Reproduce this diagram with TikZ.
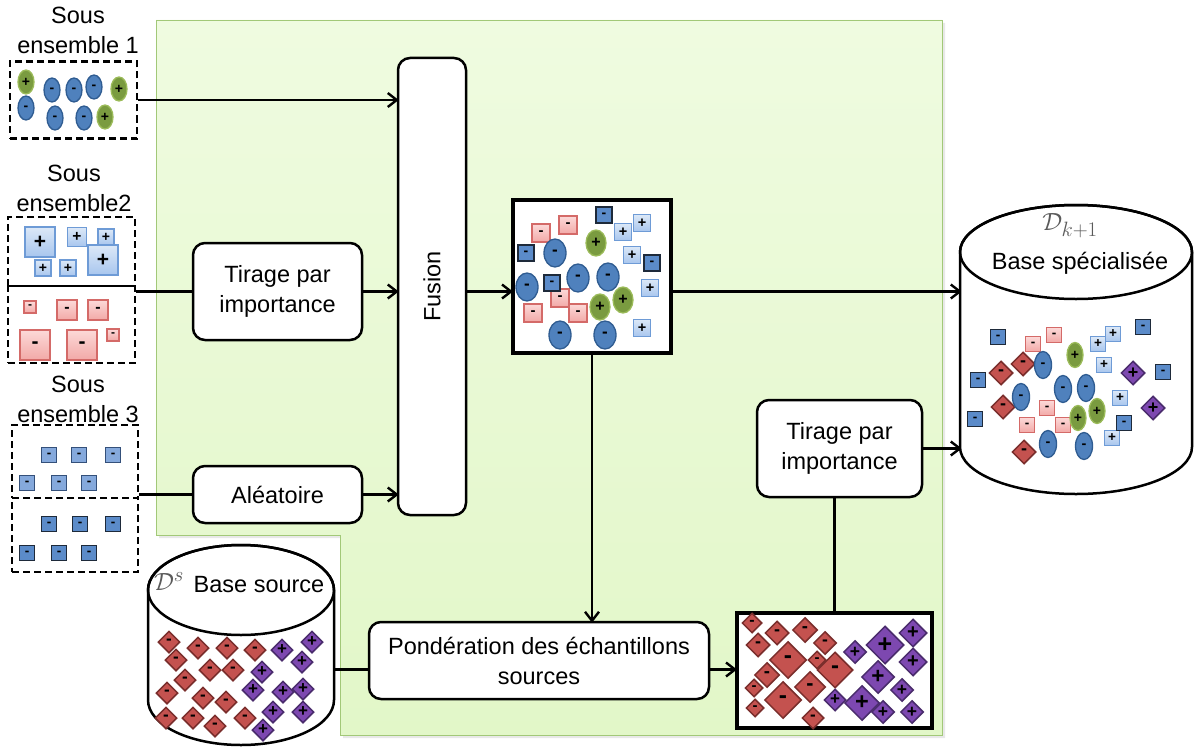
\documentclass[tikz,border=0pt]{standalone}
\usepackage{fontspec}
\setmainfont{Liberation Sans}
\usetikzlibrary{arrows.meta, shapes.geometric}
\pgfdeclarelayer{bg}
\pgfsetlayers{bg,main}
\definecolor{gtop}{HTML}{EFFBE0}
\definecolor{gmid}{HTML}{CFF39E}
\definecolor{gbot}{HTML}{E2F7C8}
\definecolor{gedge}{HTML}{A2C878}
\definecolor{eblue}{HTML}{4F81BD}
\definecolor{ebluedk}{HTML}{2F5C91}
\definecolor{egreen}{HTML}{7A9B40}
\definecolor{egreenlt}{HTML}{9BBB59}
\definecolor{sqbluet}{HTML}{DCE8F7}
\definecolor{sqblueb}{HTML}{A8C6EE}
\definecolor{sqbluedr}{HTML}{6E9BD6}
\definecolor{sqpinkt}{HTML}{FCD9D8}
\definecolor{sqpinkb}{HTML}{F2A9A7}
\definecolor{sqpinkdr}{HTML}{D46A68}
\definecolor{sqdark}{HTML}{5B8BC9}
\definecolor{sqdarkdr}{HTML}{1E2A3A}
\definecolor{sqlight}{HTML}{85A9DC}
\definecolor{sqlightdr}{HTML}{34507A}
\definecolor{dmred}{HTML}{C4524F}
\definecolor{dmreddr}{HTML}{7A2E2C}
\definecolor{dmpurp}{HTML}{7D48B0}
\definecolor{dmpurpdr}{HTML}{4A2C6C}
\definecolor{mathgray}{HTML}{5A5A5A}
\newcommand{\labfont}{\fontsize{23.5}{30}\selectfont}
\newcommand{\symfont}[1]{\pgfmathsetmacro{\symsz}{6+0.5*#1}\fontsize{\symsz}{\symsz}\selectfont\bfseries}
\newcommand{\headright}[1]{\draw[ln, line join=miter] #1 ++(-9,-7) -- ++(9,7) -- ++(-9,7);}
\newcommand{\headdown}[1]{\draw[ln, line join=miter] #1 ++(-7,-9) -- ++(7,9) -- ++(7,-9);}
\tikzset{
  lbl/.style={font=\labfont, align=center, inner sep=0pt},
  proc/.style={draw, line width=2.5pt, rounded corners=12pt, fill=white,
    align=center, font=\labfont, inner sep=0pt},
  dashbox/.style={draw, line width=2.6pt, dash pattern=on 7pt off 4pt, inner sep=0pt},
  setbox/.style={draw, line width=4pt, fill=white, inner sep=0pt},
  ln/.style={line width=2.4pt},
  cyl/.style={draw, line width=2.5pt, fill=white},
  mathlbl/.style={font=\fontsize{30}{30}\selectfont, text=mathgray, inner sep=0pt},
  ellneg/.style 2 args={ellipse, draw=ebluedk, line width=1.3pt, fill=eblue,
    minimum width=#1, minimum height=#2, inner sep=0pt, font=\symfont{#1}},
  ellpos/.style 2 args={ellipse, draw=egreenlt, line width=1.3pt, fill=egreen,
    minimum width=#1, minimum height=#2, inner sep=0pt, font=\symfont{#1}},
  sqpos/.style={rectangle, draw=sqbluedr, line width=1.2pt, top color=sqbluet,
    bottom color=sqblueb, minimum size=#1, inner sep=0pt, font=\symfont{#1}},
  sqneg/.style={rectangle, draw=sqpinkdr, line width=1.2pt, top color=sqpinkt,
    bottom color=sqpinkb, minimum size=#1, inner sep=0pt, font=\symfont{#1}},
  sqdk/.style={rectangle, draw=sqdarkdr, line width=1.4pt, fill=sqdark,
    minimum size=#1, inner sep=0pt, font=\symfont{#1}},
  sqlt/.style={rectangle, draw=sqlightdr, line width=1.4pt, fill=sqlight,
    minimum size=15, inner sep=0pt, font=\symfont{15}},
  dmneg/.style={diamond, draw=dmreddr, line width=1.5pt, fill=dmred,
    minimum size=#1, inner sep=-2pt, font=\symfont{#1}},
  dmpos/.style={diamond, draw=dmpurpdr, line width=1.5pt, fill=dmpurp,
    minimum size=#1, inner sep=-2pt, font=\symfont{#1}},
}
\begin{document}
\begin{tikzpicture}[x=1pt, y=-1pt]
\useasboundingbox (0,0) rectangle (1198,749);

%% processing boxes
\node[proc, minimum width=169, minimum height=97] (tir1) at (277.5,291.5) {Tirage par\\importance};
\node[proc, minimum width=169, minimum height=57] (ale) at (277.5,494.5) {Aléatoire};
\node[proc, minimum width=68, minimum height=457] (fus) at (432,286.5) {};
\node[lbl, rotate=90] (fustxt) at (fus.center) {Fusion};
\node[proc, minimum width=340, minimum height=77] (pond) at (539,660.5) {Pondération des échantillons\\sources};
\node[proc, minimum width=165, minimum height=97] (tir2) at (839.5,448.5) {Tirage par\\importance};
\node[setbox, minimum width=158, minimum height=153] (mix) at (592,276.5) {};
\node[setbox, minimum width=195, minimum height=115] (dmb) at (834.5,670.5) {};
\node[minimum width=232, minimum height=290, inner sep=0pt] (dk) at (1076,350) {};
\node[minimum width=186, minimum height=200, inner sep=0pt] (ds) at (241,645) {};

%% subsets
\node[lbl] (l1) at (78,30) {Sous\\ensemble 1};
\node[lbl] (l2) at (74,188) {Sous\\ensemble2};
\node[lbl] (l3) at (78,399) {Sous\\ensemble 3};
\node[dashbox, minimum width=127, minimum height=77] (s1) at (73.5,100) {};
\node[dashbox, minimum width=127, minimum height=69] (s2a) at (71.5,251.5) {};
\node[dashbox, minimum width=127, minimum height=77] (s2b) at (71.5,324.5) {};
\node[dashbox, minimum width=126, minimum height=73] (s3a) at (75,461.5) {};
\node[dashbox, minimum width=126, minimum height=74] (s3b) at (75,535) {};

%% connectors
\draw[ln] (s1.east) -- (s1.east -| fus.west);
\headright{(s1.east -| fus.west)}
\draw[ln] (tir1.west -| s2a.east) -- (tir1.west);
\draw[ln] (tir1.east) -- (tir1.east -| fus.west);
\headright{(tir1.east -| fus.west)}
\draw[ln] (ale.west -| s3a.east) -- (ale.west);
\draw[ln] (ale.east) -- (ale.east -| fus.west);
\headright{(ale.east -| fus.west)}
\draw[ln] (tir1.east -| fus.east) -- (tir1.east -| mix.west);
\headright{(tir1.east -| mix.west)}
\draw[ln] (tir1.east -| mix.east) -- (tir1.east -| dk.west);
\headright{(tir1.east -| dk.west)}
\draw[ln] (mix.south) -- (mix.south |- pond.north);
\headdown{(mix.south |- pond.north)}
\draw[ln] ([yshift=-9pt]pond.west -| ds.east) -- ([yshift=-9pt]pond.west);
\draw[ln] ([yshift=-9pt]pond.east) -- ([yshift=-9pt]pond.east -| dmb.west);
\headright{([yshift=-9pt]pond.east -| dmb.west)}
\draw[ln] (dmb.north) -- (dmb.north |- tir2.south);
\draw[ln] (tir2.east) -- (tir2.east -| dk.west);
\headright{(tir2.east -| dk.west)}

%% cylinders
\draw[cyl] (960,252) -- (960,447) arc[start angle=180, end angle=360, x radius=116pt, y radius=47pt]
  -- (1192,252) arc[start angle=0, end angle=180, x radius=116pt, y radius=47pt] -- cycle;
\draw[line width=2.5pt] (1076,252) ellipse[x radius=116pt, y radius=47pt];
\draw[cyl] (148,590) -- (148,700) arc[start angle=180, end angle=360, x radius=93pt, y radius=45pt]
  -- (334,590) arc[start angle=0, end angle=180, x radius=93pt, y radius=45pt] -- cycle;
\draw[line width=2.5pt] (241,590) ellipse[x radius=93pt, y radius=45pt];

\node[mathlbl] (dkname) at (1070,226) {$\mathcal{D}_{k+1}$};
\node[lbl] (dktxt) at (1080,263) {Base spécialisée};
\node[mathlbl] (dsname) at (169,582) {$\mathcal{D}^{s}$};
\node[lbl] (dstxt) at (259,585) {Base source};

%% subset contents
\foreach \x/\y [count=\i] in {26/82, 119/89, 105/117}
  \node[ellpos={16}{24}] (sp\i) at (\x,\y) {+};
\foreach \x/\y [count=\i] in {26/108, 52/90, 74/90, 94/87, 55/118, 84/118}
  \node[ellneg={16}{24}] (sn\i) at (\x,\y) {-};

\foreach \x/\y/\s [count=\i] in {40/242/30, 77/237/19, 106/237/16, 103/260/30, 43/268/16, 68/268/16}
  \node[sqpos=\s] (bp\i) at (\x,\y) {+};
\foreach \x/\y/\s [count=\i] in {30/307/12, 67/310/20, 98/310/20, 35/345/30, 82/345/30, 113/335/12}
  \node[sqneg=\s] (rn\i) at (\x,\y) {-};

\foreach \x/\y [count=\i] in {49/455, 79/455, 113/455, 27/483, 59/483, 89/483}
  \node[sqlt] (la\i) at (\x,\y) {-};
\foreach \x/\y [count=\i] in {49/524, 80/524, 113/524, 27/553, 59/553, 89/553}
  \node[sqdk=15] (lb\i) at (\x,\y) {-};

%% mixed set
\foreach \x/\y/\s [count=\i] in {541/233/18, 568/225/18, 560/298/18, 533/313/18, 578/313/18}
  \node[sqneg=\s] (mn\i) at (\x,\y) {-};
\foreach \x/\y [count=\i] in {555/253, 527/287, 578/278, 608/277, 560/335, 605/335}
  \node[ellneg={22}{28}] (me\i) at (\x,\y) {-};
\foreach \x/\y [count=\i] in {596/243, 600/307, 623/300}
  \node[ellpos={20}{26}] (mg\i) at (\x,\y) {+};
\foreach \x/\y [count=\i] in {623/232, 642/223, 632/255, 650/288, 642/328}
  \node[sqpos=17] (mp\i) at (\x,\y) {+};
\foreach \x/\y [count=\i] in {604/215, 526/253, 652/263, 552/283}
  \node[sqdk=16] (md\i) at (\x,\y) {-};

%% weighted source set
\foreach \x/\y/\s [count=\i] in {752/623/20, 777/633/24, 805/630/25, 758/645/24, 825/643/23,
    817/660/18, 788/660/37, 835/670/36, 767/675/25, 754/688/18, 810/687/31, 783/700/37,
    755/708/18, 813/718/22}
  \node[dmneg=\s] (wn\i) at (\x,\y) {-};
\foreach \x/\y/\s [count=\i] in {855/652/23, 885/645/38, 913/633/28, 913/662/28, 878/677/33,
    902/690/23, 835/700/22, 862/703/35, 883/712/23, 912/712/23}
  \node[dmpos=\s] (wp\i) at (\x,\y) {+};

%% source base
\foreach \x/\y [count=\i] in {169/642, 198/648, 227/648, 255/650, 176/660, 210/670, 233/670,
    185/680, 167/693, 203/698, 226/702, 166/718, 193/718, 215/726, 245/718}
  \node[dmneg=22] (bn\i) at (\x,\y) {-};
\foreach \x/\y [count=\i] in {282/650, 312/642, 302/662, 262/672, 253/690, 283/692, 303/689,
    273/712, 303/712, 263/730}
  \node[dmpos=22] (bq\i) at (\x,\y) {+};

%% specialised base
\foreach \x/\y [count=\i] in {1001/373, 1023/364, 1003/407, 1024/452}
  \node[dmneg=24] (kn\i) at (\x,\y) {-};
\foreach \x/\y [count=\i] in {1133/373, 1153/408}
  \node[dmpos=24] (kq\i) at (\x,\y) {+};
\foreach \x/\y [count=\i] in {1033/344, 1054/335, 1047/408, 1027/425, 1063/425}
  \node[sqneg=15] (kr\i) at (\x,\y) {-};
\foreach \x/\y [count=\i] in {1043/365, 1021/397, 1063/389, 1086/388, 1048/444, 1084/446}
  \node[ellneg={17}{27}] (ke\i) at (\x,\y) {-};
\foreach \x/\y [count=\i] in {1075/355, 1078/418, 1097/411}
  \node[ellpos={16}{25}] (kg\i) at (\x,\y) {+};
\foreach \x/\y [count=\i] in {1098/344, 1113/334, 1104/365, 1120/398, 1112/438}
  \node[sqpos=15] (kp\i) at (\x,\y) {+};
\foreach \x/\y [count=\i] in {998/337, 1143/327, 1163/372, 978/380, 975/419, 1124/423}
  \node[sqdk=15] (kd\i) at (\x,\y) {-};

%% green working area (with soft shadow), behind everything
\begin{pgfonlayer}{bg}
  \fill[black!9] (159,23) -- (945,23) -- (945,738) -- (343,738) -- (343,538) -- (159,538) -- cycle;
  \shade[top color=gtop, middle color=gmid, bottom color=gbot]
    (156,20) -- (942,20) -- (942,735) -- (340,735) -- (340,535) -- (156,535) -- cycle;
  \draw[gedge, line width=0.8pt]
    (156,20) -- (942,20) -- (942,735) -- (340,735) -- (340,535) -- (156,535) -- cycle;
\end{pgfonlayer}

\end{tikzpicture}
\end{document}
